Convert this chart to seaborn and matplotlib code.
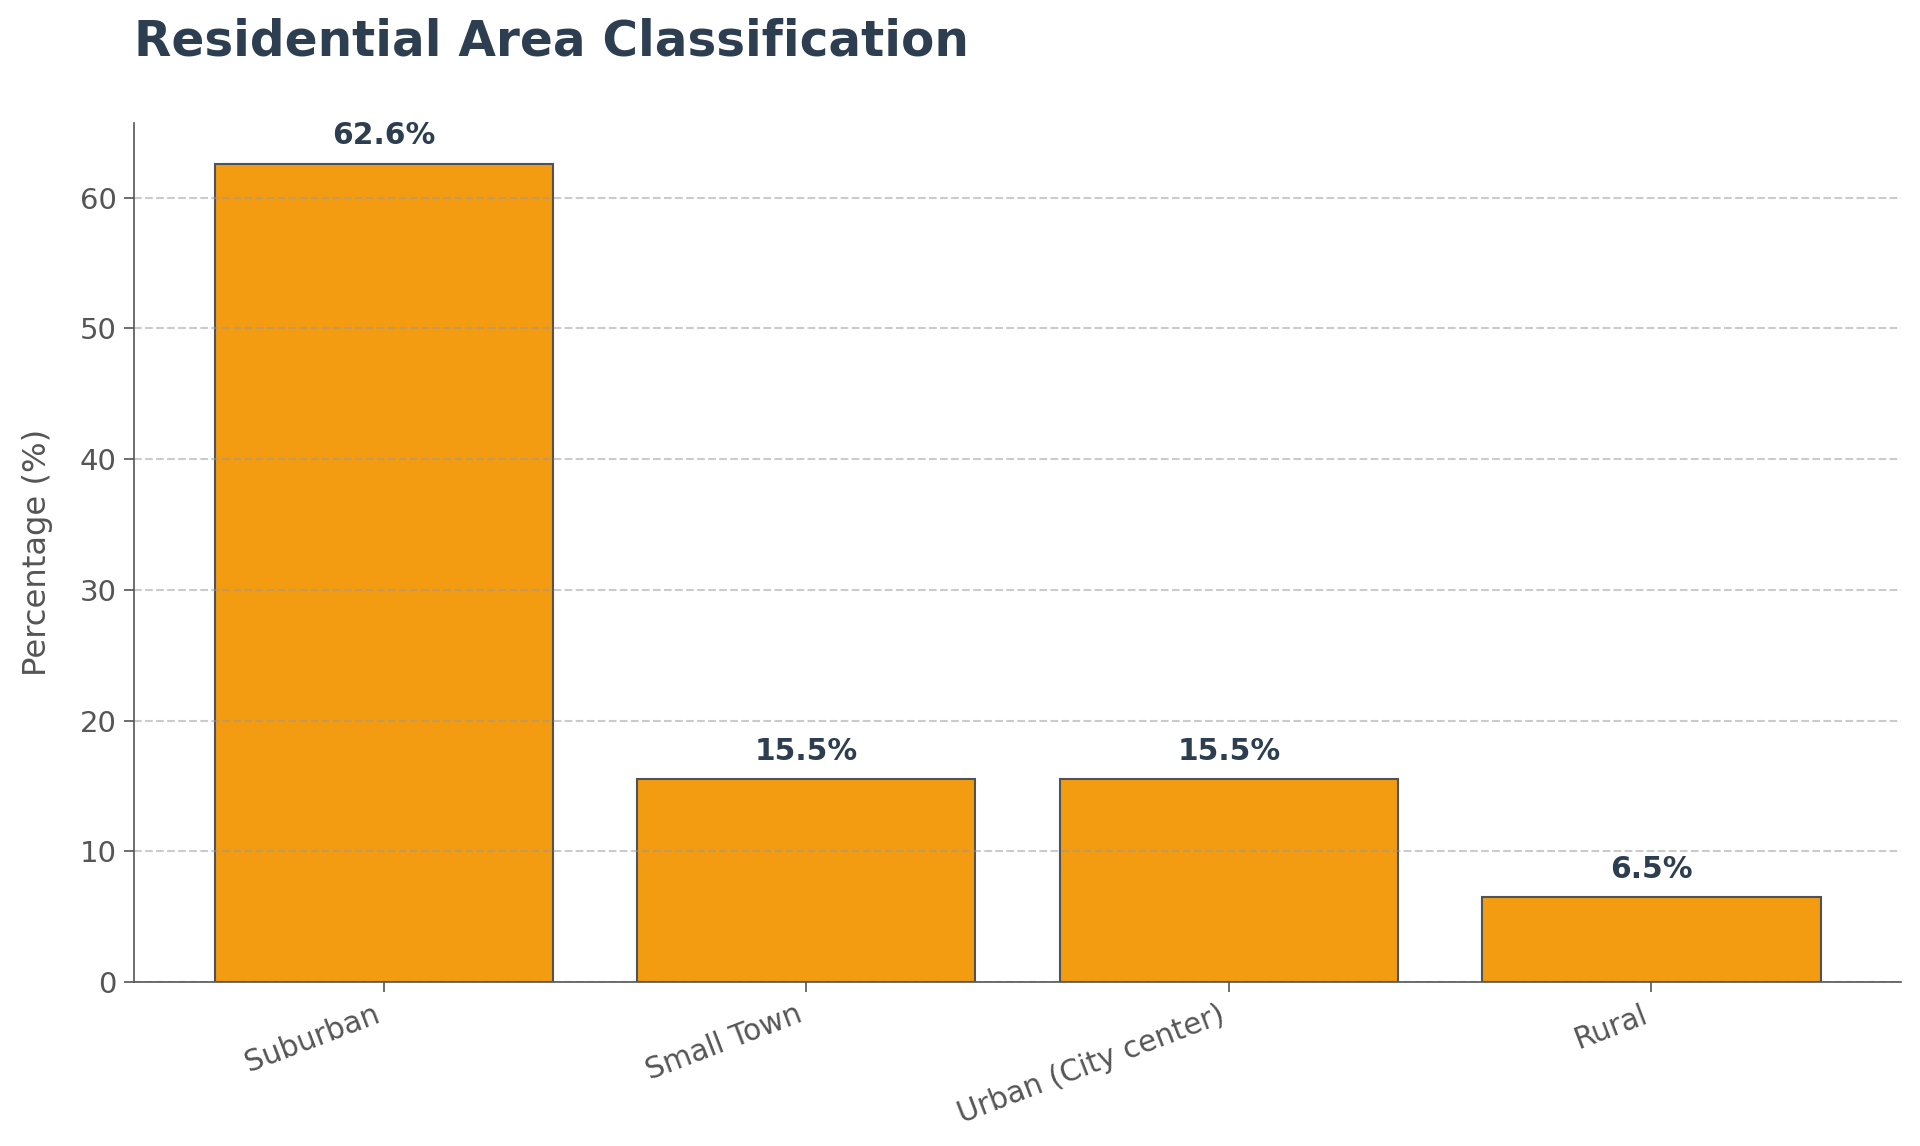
import matplotlib
matplotlib.use("Agg")
import matplotlib.pyplot as plt
import seaborn as sns
import pandas as pd

# ─────────────────────────────────────────
# Data
# ─────────────────────────────────────────
categories = ["Suburban", "Small Town", "Urban (City center)", "Rural"]
percentages = [62.6, 15.5, 15.5, 6.5]

BAR_COLOR   = "#F39C12"
TITLE_COLOR = "#2C3E50"
TEXT_GRAY   = "#555555"

df = pd.DataFrame({"area": categories, "pct": percentages})

sns.set_style("ticks")
plt.rcParams["font.family"] = ["DejaVu Sans"]

fig, ax = plt.subplots(figsize=(12.8, 7.64), dpi=150)

sns.barplot(data=df, x="area", y="pct", color=BAR_COLOR, saturation=1,
            width=0.8, edgecolor="#4d5358", linewidth=1.0, ax=ax)

# value labels
for i, v in enumerate(percentages):
    ax.text(i, v + 1, f"{v}%", ha="center", va="bottom",
            fontsize=14.3, fontweight="bold", color=TITLE_COLOR)

ax.set_xlim(-0.59, 3.59)
ax.set_ylim(0, max(percentages) * 1.05)

ax.set_axisbelow("line")
ax.yaxis.grid(True, linestyle="--", color="#999999", alpha=0.5, linewidth=1.0)
ax.xaxis.grid(False)

ax.set_title("Residential Area Classification", loc="left", fontsize=23.3,
             fontweight="bold", color=TITLE_COLOR, pad=32)
ax.set_xlabel("")
ax.set_ylabel("Percentage (%)", fontsize=15.5, color=TEXT_GRAY, labelpad=13)

plt.setp(ax.get_xticklabels(), rotation=21, ha="right", fontsize=14.2,
         color=TEXT_GRAY)
plt.setp(ax.get_yticklabels(), fontsize=14, color=TEXT_GRAY)
ax.tick_params(axis="both", colors=TEXT_GRAY, length=5)
for lab in ax.get_xticklabels() + ax.get_yticklabels():
    lab.set_color(TEXT_GRAY)

ax.spines[["top", "right"]].set_visible(False)
ax.spines["left"].set_color(TEXT_GRAY)
ax.spines["bottom"].set_color(TEXT_GRAY)

plt.subplots_adjust(left=0.07, right=0.99, top=0.893, bottom=0.143)
plt.savefig("out.png", dpi=150)
plt.close()
